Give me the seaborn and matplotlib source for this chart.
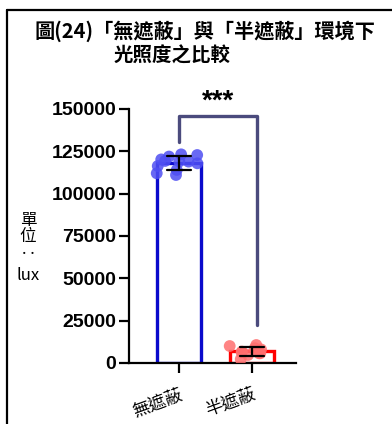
import numpy as np
import pandas as pd
import matplotlib
matplotlib.use("Agg")
import matplotlib.pyplot as plt
from matplotlib.lines import Line2D
import seaborn as sns

# Illuminance readings (lux) for the two shading conditions
categories = ["無遮蔽", "半遮蔽"]
unshaded_lux = [123200, 118900, 121900, 119000, 122800, 117900,
                120200, 119300, 116300, 111000, 112000, 114000]
half_shaded_lux = [5700, 6200, 5700, 10600, 10000, 8700,
                   2200, 4700, 6700, 8000]
y_ticks = [0, 25000, 50000, 75000, 100000, 125000, 150000]
significance = "***"

sns.set_style("white")
plt.rcParams["font.family"] = ["Noto Sans CJK TC", "DejaVu Sans"]
plt.rcParams.update({"text.color": "black", "xtick.color": "black",
                     "ytick.color": "black", "axes.labelcolor": "black"})

df = pd.DataFrame({
    "group": [categories[0]] * len(unshaded_lux) + [categories[1]] * len(half_shaded_lux),
    "lux": unshaded_lux + half_shaded_lux,
})

fig = plt.figure(figsize=(3.92, 4.24), dpi=100)
ax = fig.add_axes([0.329, 0.144, 0.426, 0.599])

edge_colors = ["#0a0acc", "#ff0000"]
dot_colors = ["#4f4ff2", "#ff6f6f"]

np.random.seed(3)
sns.stripplot(data=df, x="group", y="lux", hue="group", palette=dot_colors,
              jitter=0.32, size=8.5, alpha=0.85, linewidth=0, legend=False,
              ax=ax, zorder=3)

sns.barplot(data=df, x="group", y="lux", hue="group", palette=edge_colors,
            errorbar="sd", capsize=0.33, err_kws={"color": "black", "linewidth": 1.6},
            fill=False, linewidth=2.4, width=0.6, legend=False, ax=ax)

for patch in ax.patches:
    patch.set_facecolor("none")
    patch.set_zorder(2)
for line in ax.lines:
    line.set_zorder(4)

ax.set_xlim(-0.68, 1.6)
ax.set_ylim(0, 150000)
ax.set_yticks(y_ticks)
ax.set_yticklabels([str(v) for v in y_ticks], fontsize=14, fontweight="bold",
                   family=["Liberation Sans", "DejaVu Sans"])
ax.set_xticks([0, 1])
ax.set_xticklabels(categories, rotation=20, ha="right", fontsize=12.5,
                   rotation_mode="anchor")
ax.set_xlabel("")
ax.set_ylabel("")

for side in ["top", "right"]:
    ax.spines[side].set_visible(False)
for side in ["left", "bottom"]:
    ax.spines[side].set_linewidth(1.6)
    ax.spines[side].set_color("black")
ax.tick_params(axis="both", which="both", length=7, width=1.6, color="black",
               direction="out", left=True, bottom=True, pad=2)
ax.tick_params(axis="x", pad=9)

# significance bracket
bx0, bx1 = 0.0, 1.07
ax.plot([bx0, bx0, bx1, bx1], [130700, 145900, 145900, 22400],
        color="#4b4b7d", linewidth=2.4, clip_on=False, zorder=5)
ax.text((bx0 + bx1) / 2, 146500, significance, ha="center", va="bottom",
        fontsize=20, fontweight="bold", family=["Liberation Sans", "DejaVu Sans"])

# titles
fig.text(205 / 392, 1 - 31 / 424, "圖(24)「無遮蔽」與「半遮蔽」環境下",
         ha="center", va="center", fontsize=14.5, fontweight="bold")
fig.text(172 / 392, 1 - 56 / 424, "光照度之比較",
         ha="center", va="center", fontsize=14, fontweight="bold")

# y-axis unit label, stacked vertically
for txt, yc in [("單", 220), ("位", 237), ("‥", 255), ("lux", 276)]:
    fig.text(28 / 392, 1 - yc / 424, txt, ha="center", va="center", fontsize=12)

# outer frame (left and top edges)
fig.add_artist(Line2D([7 / 392, 7 / 392], [0, 1 - 10 / 424], color="black",
                      linewidth=1.6, transform=fig.transFigure))
fig.add_artist(Line2D([7 / 392, 1], [1 - 10 / 424, 1 - 10 / 424], color="black",
                      linewidth=1.6, transform=fig.transFigure))

fig.savefig("out.png", dpi=100)
